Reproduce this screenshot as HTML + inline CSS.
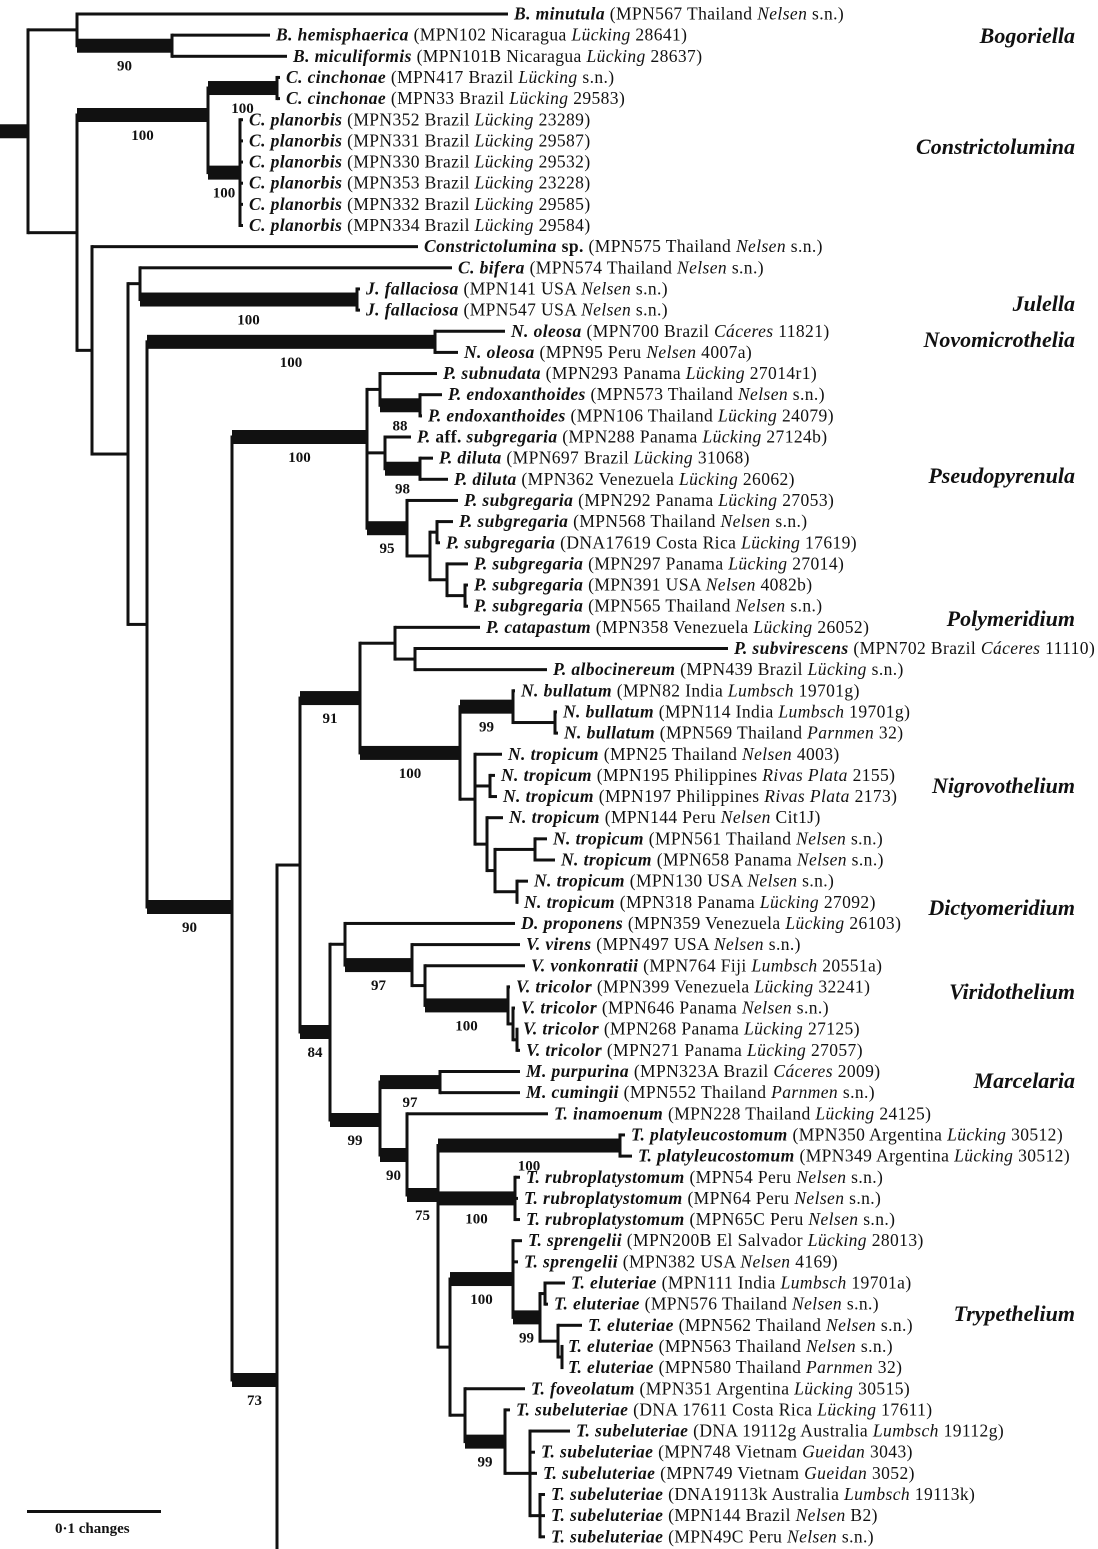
<!DOCTYPE html>
<html><head><meta charset="utf-8">
<style>
html,body{margin:0;padding:0;background:#fff;}
svg{display:block;font-family:"Liberation Serif",serif;}
.lf{font-size:17.5px;letter-spacing:0.4px;fill:#111;}
.sup{font-size:15px;font-weight:bold;fill:#111;text-anchor:middle;}
.clade{font-size:22px;font-weight:bold;font-style:italic;fill:#111;text-anchor:end;}
</style></head>
<body>
<svg id="tree" width="1098" height="1549" viewBox="0 0 1098 1549" xmlns="http://www.w3.org/2000/svg">
<g id="branches"></g>
<g id="labels"></g>
<g id="supports"></g>
<g>
<text class="clade" x="1075" y="43">Bogoriella</text>
<text class="clade" x="1075" y="154">Constrictolumina</text>
<text class="clade" x="1075" y="311">Julella</text>
<text class="clade" x="1075" y="347">Novomicrothelia</text>
<text class="clade" x="1075" y="483">Pseudopyrenula</text>
<text class="clade" x="1075" y="626">Polymeridium</text>
<text class="clade" x="1075" y="793">Nigrovothelium</text>
<text class="clade" x="1075" y="915">Dictyomeridium</text>
<text class="clade" x="1075" y="999">Viridothelium</text>
<text class="clade" x="1075" y="1088">Marcelaria</text>
<text class="clade" x="1075" y="1321">Trypethelium</text>
</g>
<g>
<rect x="27" y="1510" width="134" height="3" fill="#111"></rect>
<text x="55" y="1533" style="font-size:15px;font-weight:bold" fill="#111">0·1 changes</text>
</g>
</svg>
<script>
const leafText = [
"B. minutula|(MPN567 Thailand|Nelsen|s.n.)",
"B. hemisphaerica|(MPN102 Nicaragua|Lücking|28641)",
"B. miculiformis|(MPN101B Nicaragua|Lücking|28637)",
"C. cinchonae|(MPN417 Brazil|Lücking|s.n.)",
"C. cinchonae|(MPN33 Brazil|Lücking|29583)",
"C. planorbis|(MPN352 Brazil|Lücking|23289)",
"C. planorbis|(MPN331 Brazil|Lücking|29587)",
"C. planorbis|(MPN330 Brazil|Lücking|29532)",
"C. planorbis|(MPN353 Brazil|Lücking|23228)",
"C. planorbis|(MPN332 Brazil|Lücking|29585)",
"C. planorbis|(MPN334 Brazil|Lücking|29584)",
"Constrictolumina [sp.]|(MPN575 Thailand|Nelsen|s.n.)",
"C. bifera|(MPN574 Thailand|Nelsen|s.n.)",
"J. fallaciosa|(MPN141 USA|Nelsen|s.n.)",
"J. fallaciosa|(MPN547 USA|Nelsen|s.n.)",
"N. oleosa|(MPN700 Brazil|Cáceres|11821)",
"N. oleosa|(MPN95 Peru|Nelsen|4007a)",
"P. subnudata|(MPN293 Panama|Lücking|27014r1)",
"P. endoxanthoides|(MPN573 Thailand|Nelsen|s.n.)",
"P. endoxanthoides|(MPN106 Thailand|Lücking|24079)",
"P. [aff.] subgregaria|(MPN288 Panama|Lücking|27124b)",
"P. diluta|(MPN697 Brazil|Lücking|31068)",
"P. diluta|(MPN362 Venezuela|Lücking|26062)",
"P. subgregaria|(MPN292 Panama|Lücking|27053)",
"P. subgregaria|(MPN568 Thailand|Nelsen|s.n.)",
"P. subgregaria|(DNA17619 Costa Rica|Lücking|17619)",
"P. subgregaria|(MPN297 Panama|Lücking|27014)",
"P. subgregaria|(MPN391 USA|Nelsen|4082b)",
"P. subgregaria|(MPN565 Thailand|Nelsen|s.n.)",
"P. catapastum|(MPN358 Venezuela|Lücking|26052)",
"P. subvirescens|(MPN702 Brazil|Cáceres|11110)",
"P. albocinereum|(MPN439 Brazil|Lücking|s.n.)",
"N. bullatum|(MPN82 India|Lumbsch|19701g)",
"N. bullatum|(MPN114 India|Lumbsch|19701g)",
"N. bullatum|(MPN569 Thailand|Parnmen|32)",
"N. tropicum|(MPN25 Thailand|Nelsen|4003)",
"N. tropicum|(MPN195 Philippines|Rivas Plata|2155)",
"N. tropicum|(MPN197 Philippines|Rivas Plata|2173)",
"N. tropicum|(MPN144 Peru|Nelsen|Cit1J)",
"N. tropicum|(MPN561 Thailand|Nelsen|s.n.)",
"N. tropicum|(MPN658 Panama|Nelsen|s.n.)",
"N. tropicum|(MPN130 USA|Nelsen|s.n.)",
"N. tropicum|(MPN318 Panama|Lücking|27092)",
"D. proponens|(MPN359 Venezuela|Lücking|26103)",
"V. virens|(MPN497 USA|Nelsen|s.n.)",
"V. vonkonratii|(MPN764 Fiji|Lumbsch|20551a)",
"V. tricolor|(MPN399 Venezuela|Lücking|32241)",
"V. tricolor|(MPN646 Panama|Nelsen|s.n.)",
"V. tricolor|(MPN268 Panama|Lücking|27125)",
"V. tricolor|(MPN271 Panama|Lücking|27057)",
"M. purpurina|(MPN323A Brazil|Cáceres|2009)",
"M. cumingii|(MPN552 Thailand|Parnmen|s.n.)",
"T. inamoenum|(MPN228 Thailand|Lücking|24125)",
"T. platyleucostomum|(MPN350 Argentina|Lücking|30512)",
"T. platyleucostomum|(MPN349 Argentina|Lücking|30512)",
"T. rubroplatystomum|(MPN54 Peru|Nelsen|s.n.)",
"T. rubroplatystomum|(MPN64 Peru|Nelsen|s.n.)",
"T. rubroplatystomum|(MPN65C Peru|Nelsen|s.n.)",
"T. sprengelii|(MPN200B El Salvador|Lücking|28013)",
"T. sprengelii|(MPN382 USA|Nelsen|4169)",
"T. eluteriae|(MPN111 India|Lumbsch|19701a)",
"T. eluteriae|(MPN576 Thailand|Nelsen|s.n.)",
"T. eluteriae|(MPN562 Thailand|Nelsen|s.n.)",
"T. eluteriae|(MPN563 Thailand|Nelsen|s.n.)",
"T. eluteriae|(MPN580 Thailand|Parnmen|32)",
"T. foveolatum|(MPN351 Argentina|Lücking|30515)",
"T. subeluteriae|(DNA 17611 Costa Rica|Lücking|17611)",
"T. subeluteriae|(DNA 19112g Australia|Lumbsch|19112g)",
"T. subeluteriae|(MPN748 Vietnam|Gueidan|3043)",
"T. subeluteriae|(MPN749 Vietnam|Gueidan|3052)",
"T. subeluteriae|(DNA19113k Australia|Lumbsch|19113k)",
"T. subeluteriae|(MPN144 Brazil|Nelsen|B2)",
"T. subeluteriae|(MPN49C Peru|Nelsen|s.n.)"
];
const tipX = [508,270,287,280,280,243,243,243,243,243,243,418,452,360,360,505,458,437,442,422,
411,433,448,458,453,440,468,468,468,480,728,547,515,557,558,502,495,497,503,547,
555,528,518,515,520,525,510,515,517,520,520,520,548,625,632,520,518,520,522,518,
565,548,582,562,562,525,510,570,535,537,545,545,545];
const rowTop = 14, rowStep = 21.15;
const OFF = -1;

function N(x, c, sup, thick, yo){ return {x:x, c:c, sup:sup||null, thick:!!thick, yo:yo}; }

const tree = N(28,[
  N(77,[0, N(172,[1,2],'90',1)]),
  N(77,[
    N(208,[N(277,[3,4],'100',1), N(240,[5,6,7,8,9,10],'100',1)],'100',1,115),
    N(92,[11,
      N(128,[
        N(140,[12, N(357,[13,14],'100',1)]),
        N(147,[
          N(435,[15,16],'100',1),
          N(232,[
            N(367,[
              N(380,[17, N(420,[18,19],'88',1)]),
              N(385,[20, N(420,[21,22],'98',1)]),
              N(407,[23, N(430,[N(437,[24,25]), N(447,[26, N(465,[27,28])])])],'95',1)
            ],'100',1,437),
            N(277,[
              N(300,[
                N(360,[
                  N(395,[29, N(415,[30,31])]),
                  N(460,[
                    N(513,[32, N(555,[33,34])],'99',1),
                    N(475,[35, N(490,[36,37]), N(487,[38, N(495,[N(535,[39,40]), N(517,[41,42])])])])
                  ],'100',1)
                ],'91',1),
                N(330,[
                  N(345,[43, N(412,[44, N(425,[45, N(508,[46, N(513,[47, N(517,[48,49])])],'100',1)])],'97',1)]),
                  N(380,[
                    N(440,[50,51],'97',1),
                    N(407,[52,
                      N(438,[
                        N(620,[53,54],'100',1),
                        N(515,[55,56,57],'100',1),
                        N(450,[
                          N(513,[58,59, N(540,[N(545,[60,61]), N(558,[62, N(562,[63,64])])],'99',1)],'100',1),
                          N(465,[65, N(505,[66, N(530,[67,68,69, N(540,[70,71,72])])],'99',1)])
                        ])
                      ],'75',1,1195)
                    ],'90',1,1155)
                  ],'99',1,1120)
                ],'84',1,1032)
              ]),
              OFF
            ],'73',1,1380)
          ],'90',1,907)
        ])
      ])
    ])
  ])
]);

const NS = 'http://www.w3.org/2000/svg';
const gB = document.getElementById('branches');
const gL = document.getElementById('labels');
const gS = document.getElementById('supports');
function rowY(i){ return rowTop + i*rowStep; }
function yOf(n){
  if (n === OFF) return 1916;
  if (typeof n === 'number') return rowY(n);
  if (n._y === undefined){
    n._y = (n.yo !== undefined) ? n.yo : (yOf(n.c[0]) + yOf(n.c[n.c.length-1]))/2;
  }
  return n._y;
}
function rect(x,y,w,h,name){
  const r = document.createElementNS(NS,'rect');
  r.setAttribute('x',x); r.setAttribute('y',y);
  r.setAttribute('width',Math.max(w,0)); r.setAttribute('height',Math.max(h,0));
  r.setAttribute('fill','#111');
  
  
  gB.appendChild(r);
}
function drawLeaf(i, px){
  const y = rowY(i), tx = tipX[i];
  rect(px, y-1.5, tx-px, 3, 'leaf-branch');
  const parts = leafText[i].split('|');
  const t = document.createElementNS(NS,'text');
  t.setAttribute('class','lf');
  t.setAttribute('x', tx+6); t.setAttribute('y', y+5.5);
  
  
  const sp = parts[0].split(/(\[[^\]]*\])/);
  sp.forEach(seg=>{
    if(!seg) return;
    const s = document.createElementNS(NS,'tspan');
    s.setAttribute('font-weight','bold');
    if (seg[0]==='['){ s.textContent = ' '+seg.slice(1,-1)+' '; }
    else { s.setAttribute('font-style','italic'); s.textContent = seg.trim(); }
    t.appendChild(s);
  });
  const a = document.createElementNS(NS,'tspan'); a.textContent = ' '+parts[1]+' '; t.appendChild(a);
  const b = document.createElementNS(NS,'tspan'); b.setAttribute('font-style','italic'); b.textContent = parts[2]; t.appendChild(b);
  const c = document.createElementNS(NS,'tspan'); c.textContent = ' '+parts[3]; t.appendChild(c);
  gL.appendChild(t);
}
function draw(n, px){
  if (n === OFF) return;
  if (typeof n === 'number'){ drawLeaf(n, px); return; }
  const y = yOf(n);
  if (px !== null){
    if (n.thick) rect(px, y-7, n.x-px, 14, 'supported-branch');
    else rect(px, y-1.5, n.x-px, 3, 'branch');
  }
  const ys = n.c.map(yOf).concat([y]);
  const y1 = Math.min.apply(null, ys), y2 = Math.min(Math.max.apply(null, ys), 1560);
  rect(n.x-1.5, y1-1.5, 3, y2-y1+3, 'node-connector');
  if (n.sup && px !== null){
    const s = document.createElementNS(NS,'text');
    s.setAttribute('class','sup');
    s.setAttribute('x', (px+n.x)/2); s.setAttribute('y', y+25);
    
    
    s.textContent = n.sup;
    gS.appendChild(s);
  }
  n.c.forEach(ch => draw(ch, n.x));
}
rect(0, yOf(tree)-7, 28, 14, 'root-stem');
draw(tree, null);
</script>
</body></html>
